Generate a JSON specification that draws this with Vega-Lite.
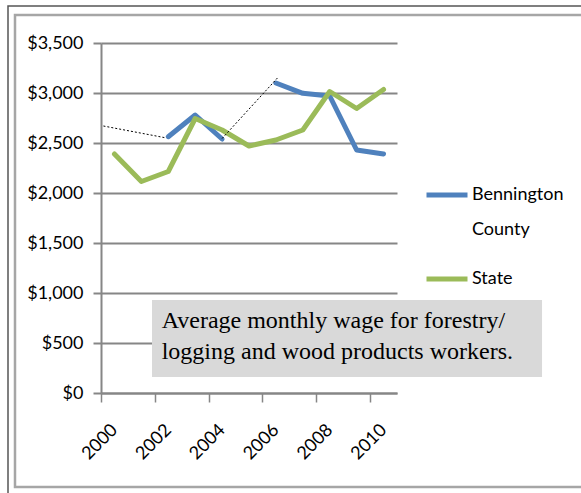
{
  "$schema": "https://vega.github.io/schema/vega-lite/v6.json",
  "width": 296,
  "height": 350,
  "autosize": "none",
  "padding": {"left": 101, "top": 43, "right": 184, "bottom": 100},
  "background": "white",
  "config": {"view": {"stroke": null}, "font": "Lato"},
  "datasets": {
    "wages": [
      {"series": "Bennington County", "seg": "a", "year": 2002, "wage": 2563},
      {"series": "Bennington County", "seg": "a", "year": 2003, "wage": 2780},
      {"series": "Bennington County", "seg": "a", "year": 2004, "wage": 2540},
      {"series": "Bennington County", "seg": "b", "year": 2006, "wage": 3100},
      {"series": "Bennington County", "seg": "b", "year": 2007, "wage": 2997},
      {"series": "Bennington County", "seg": "b", "year": 2008, "wage": 2970},
      {"series": "Bennington County", "seg": "b", "year": 2009, "wage": 2430},
      {"series": "Bennington County", "seg": "b", "year": 2010, "wage": 2390},
      {"series": "State", "seg": "s", "year": 2000, "wage": 2390},
      {"series": "State", "seg": "s", "year": 2001, "wage": 2115},
      {"series": "State", "seg": "s", "year": 2002, "wage": 2215},
      {"series": "State", "seg": "s", "year": 2003, "wage": 2745},
      {"series": "State", "seg": "s", "year": 2004, "wage": 2630},
      {"series": "State", "seg": "s", "year": 2005, "wage": 2470},
      {"series": "State", "seg": "s", "year": 2006, "wage": 2530},
      {"series": "State", "seg": "s", "year": 2007, "wage": 2630},
      {"series": "State", "seg": "s", "year": 2008, "wage": 3015},
      {"series": "State", "seg": "s", "year": 2009, "wage": 2845},
      {"series": "State", "seg": "s", "year": 2010, "wage": 3035}
    ],
    "trend": [
      {"seg": "t1", "year": 1999.59, "wage": 2670},
      {"seg": "t1", "year": 2001.88, "wage": 2553},
      {"seg": "t2", "year": 2004.0, "wage": 2545},
      {"seg": "t2", "year": 2006.08, "wage": 3157}
    ]
  },
  "layer": [
    {
      "data": {"name": "wages"},
      "mark": {"type": "line", "strokeWidth": 5, "strokeJoin": "round", "strokeCap": "round"},
      "encoding": {
        "x": {
          "field": "year", "type": "quantitative",
          "scale": {"domain": [1999.5, 2010.5], "nice": false, "zero": false},
          "axis": {
            "title": null,
            "values": [1999.5, 2000.5, 2001.5, 2002.5, 2003.5, 2004.5, 2005.5, 2006.5, 2007.5, 2008.5, 2009.5, 2010.5],
            "labelExpr": "(datum.value + 0.5) % 2 == 0 ? '' + (datum.value + 0.5) : ''",
            "labelOffset": 13.45,
            "labelAngle": -45,
            "labelAlign": "right",
            "labelBaseline": "middle",
            "labelPadding": 25,
            "labelFont": "Lato",
            "labelFontSize": 18,
            "labelColor": "#000000",
            "labelOverlap": false,
            "labelBound": false,
            "labelFlush": false,
            "tickSize": 9,
            "tickColor": "#868686",
            "tickWidth": 1.5,
            "domainColor": "#868686",
            "domainWidth": 2,
            "grid": false
          }
        },
        "y": {
          "field": "wage", "type": "quantitative",
          "scale": {"domain": [0, 3500], "nice": false},
          "axis": {
            "title": null,
            "values": [0, 500, 1000, 1500, 2000, 2500, 3000, 3500],
            "format": "$,.0f",
            "labelFont": "Lato",
            "labelFontSize": 18,
            "labelColor": "#000000",
            "labelPadding": 10,
            "labelFlush": false,
            "tickSize": 8,
            "tickColor": "#868686",
            "tickWidth": 2,
            "domainColor": "#868686",
            "domainWidth": 2,
            "grid": true,
            "gridColor": "#868686",
            "gridWidth": 2,
            "gridOpacity": 1
          }
        },
        "detail": {"field": "seg", "type": "nominal"},
        "color": {
          "field": "series", "type": "nominal",
          "scale": {"domain": ["Bennington County", "State"], "range": ["#4F81BD", "#9BBB59"]},
          "legend": {
            "title": null,
            "orient": "none",
            "legendX": 323,
            "legendY": 129,
            "padding": 0,
            "symbolType": "stroke",
            "symbolStrokeWidth": 5,
            "symbolSize": 1681,
            "labelFont": "Lato",
            "labelFontSize": 18,
            "labelColor": "#000000",
            "labelOffset": 2,
            "labelBaseline": "top",
            "rowPadding": 17,
            "labelExpr": "datum.label == 'Bennington County' ? ['Bennington', 'County'] : datum.label",
            "encode": {"labels": {"update": {"lineHeight": {"value": 35}, "dy": {"value": -9}}}}
          }
        }
      }
    },
    {
      "data": {"values": [{}]},
      "mark": {"type": "rect", "filled": false, "stroke": "#555555", "strokeWidth": 1.5},
      "encoding": {
        "x": {"datum": 1996.044, "type": "quantitative", "scale": {"domain": [1999.5, 2010.5], "nice": false, "zero": false}},
        "x2": {"datum": 2018.5},
        "y": {"datum": 3870, "type": "quantitative", "scale": {"domain": [0, 3500], "nice": false}},
        "y2": {"datum": -1100}
      }
    },
    {
      "data": {"values": [{}]},
      "mark": {"type": "rect", "filled": false, "stroke": "#a6a6a6", "strokeWidth": 2.5},
      "encoding": {
        "x": {"datum": 1996.304, "type": "quantitative", "scale": {"domain": [1999.5, 2010.5], "nice": false, "zero": false}},
        "x2": {"datum": 2018.5},
        "y": {"datum": 3780, "type": "quantitative", "scale": {"domain": [0, 3500], "nice": false}},
        "y2": {"datum": -940}
      }
    },
    {
      "data": {"values": [{}]},
      "mark": {"type": "rect", "fill": "#d9d9d9"},
      "encoding": {
        "x": {"datum": 2001.395, "type": "quantitative", "scale": {"domain": [1999.5, 2010.5], "nice": false, "zero": false}},
        "x2": {"datum": 2015.89},
        "y": {"datum": 930, "type": "quantitative", "scale": {"domain": [0, 3500], "nice": false}},
        "y2": {"datum": 160}
      }
    },
    {
      "data": {"values": [{}]},
      "mark": {
        "type": "text",
        "text": ["Average monthly wage for forestry/", "logging and wood products workers."],
        "font": "Liberation Serif",
        "fontSize": 24,
        "lineHeight": 31,
        "align": "left",
        "baseline": "alphabetic",
        "color": "#000000"
      },
      "encoding": {
        "x": {"datum": 2001.756, "type": "quantitative", "scale": {"domain": [1999.5, 2010.5], "nice": false, "zero": false}},
        "y": {"datum": 650, "type": "quantitative", "scale": {"domain": [0, 3500], "nice": false}}
      }
    },
    {
      "data": {"name": "trend"},
      "mark": {"type": "line", "color": "#000000", "strokeWidth": 1, "strokeDash": [2, 2]},
      "encoding": {
        "x": {"field": "year", "type": "quantitative", "scale": {"domain": [1999.5, 2010.5], "nice": false, "zero": false}},
        "y": {"field": "wage", "type": "quantitative", "scale": {"domain": [0, 3500], "nice": false}},
        "detail": {"field": "seg", "type": "nominal"}
      }
    }
  ]
}
